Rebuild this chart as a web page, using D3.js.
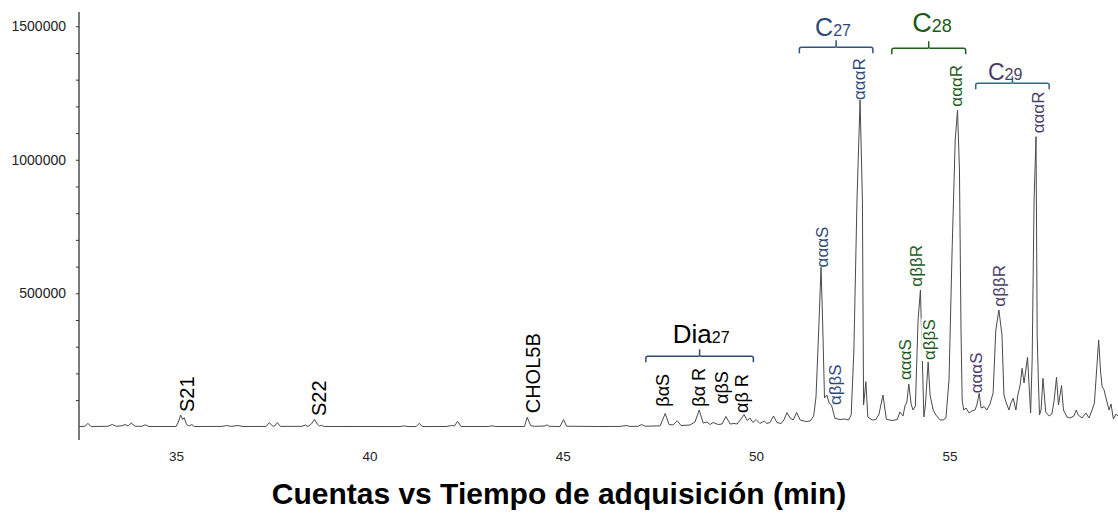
<!DOCTYPE html>
<html>
<head>
<meta charset="utf-8">
<script src="https://cdn.jsdelivr.net/npm/d3@7"></script>
<style>
  body { margin: 0; background: #fff; }
  svg { display: block; font-family: "Liberation Sans", Arial, sans-serif; }
</style>
</head>
<body>
<svg id="chart" width="1118" height="520"></svg>
<script>
// chromatogram trace (min, counts)
const times = [32.49,32.65,32.72,32.80,33.24,33.35,33.45,33.60,33.68,33.76,33.84,33.94,34.12,34.20,34.30,
  35.00,35.06,35.12,35.17,35.21,35.27,35.34,35.41,35.47,36.19,36.31,36.42,36.60,36.73,
  37.33,37.41,37.50,37.55,37.62,37.70,38.26,38.34,38.41,38.50,38.58,38.65,38.71,38.76,38.83,
  40.79,40.90,41.00,41.21,41.29,41.37,41.98,42.13,42.20,42.28,42.37,43.07,43.17,43.27,
  44.01,44.08,44.17,44.26,44.54,44.59,44.65,44.93,45.02,45.10,45.96,46.48,46.64,46.74,
  46.95,47.04,47.13,47.52,47.65,47.75,47.85,47.96,48.06,48.29,48.42,48.53,48.63,48.73,
  48.81,48.89,49.02,49.12,49.22,49.33,49.43,49.51,49.61,49.69,49.77,49.84,49.92,50.00,
  50.10,50.21,50.28,50.36,50.45,50.54,50.65,50.72,50.80,50.88,50.96,51.05,51.14,51.29,
  51.40,51.49,51.55,51.62,51.68,51.72,51.77,51.83,51.89,51.95,52.04,52.17,52.30,52.39,
  52.46,52.53,52.61,52.69,52.75,52.78,52.84,52.89,53.00,53.10,53.18,53.28,53.37,53.52,
  53.65,53.72,53.80,53.85,53.90,53.95,54.01,54.06,54.12,54.19,54.25,54.30,54.34,54.38,
  54.45,54.50,54.58,54.65,54.76,54.84,54.91,54.99,55.07,55.15,55.21,55.26,55.30,55.33,
  55.37,55.43,55.51,55.58,55.66,55.71,55.77,55.82,55.90,55.97,56.05,56.13,56.20,56.28,
  56.36,56.41,56.46,56.54,56.59,56.65,56.72,56.77,56.83,56.88,56.93,57.02,57.06,57.10,
  57.14,57.19,57.24,57.27,57.30,57.33,57.37,57.42,57.49,57.58,57.65,57.71,57.77,57.82,
  57.90,57.95,58.04,58.12,58.22,58.28,58.33,58.43,58.53,58.61,58.69,58.75,58.79,58.86,
  58.91,58.95,59.00,59.05,59.13,59.18,59.24,59.31,59.36];
const counts = [1000,2000,13100,1000,2000,8600,2200,3700,8600,3000,14200,2200,1900,7500,1100,
  1100,18000,44200,27300,34100,8600,3000,8600,1100,1500,4900,1500,4900,1100,
  1500,15400,3000,3000,15400,1500,1900,6700,1100,10500,28100,10500,3000,5600,1100,
  1000,3700,1000,1000,13100,1000,1100,4900,3000,20600,1100,1100,3700,1100,
  1100,35600,4900,1900,3000,7500,1900,1100,27300,2200,1100,1500,4900,1500,
  2200,8600,2200,3700,49800,8600,6700,22800,4900,6700,18000,62900,14200,18000,
  8600,16100,8600,10500,38600,10500,12400,10500,29200,46100,23600,33000,16100,27300,
  12400,21700,12400,16100,40400,16100,12400,25500,53600,33000,25500,53600,25500,19800,
  21700,40400,111600,362500,597300,400000,107900,119100,89100,81600,31800,27300,29200,25500,
  44200,287600,849400,1223900,848600,81600,168900,36700,25500,27300,47900,119100,28100,23600,
  27300,55400,40400,77900,92900,160300,85400,62900,77900,400000,512300,250200,36700,81600,
  242700,119100,62900,44200,25500,25500,33000,175300,662100,1074000,1186400,961700,362500,100400,
  62900,70400,51700,59200,62900,81600,125500,70400,75300,62900,85400,126600,362500,437400,
  343800,119100,94000,62900,89100,106700,62900,119100,156500,219100,164000,260300,156500,51700,
  250200,849400,1086400,343800,175300,44200,62900,181600,55400,40400,47900,100400,185400,81600,
  154700,62900,36700,33000,40400,62900,44200,33000,51700,33000,62900,89100,175300,325100,
  205200,150200,137800,107900,62900,85400,29200,47900,40400];

// peak labels: text, anchor (time, counts) at the foot of the label, group
const peakNames  = ['S21','S22','CHOL5B','βαS','βα R','αβS','αβ R',
  'αααS','αββS','αααR','αααS','αββR','αββS','αααR','αααS','αββR','αααR'];
const peakTimes  = [35.27,38.70,44.22,47.58,48.52,49.11,49.62,
  51.70,52.03,52.67,53.84,54.14,54.47,55.17,55.69,56.27,57.30];
const peakCounts = [55400,40400,50600,75300,75300,85400,51700,
  596900,81600,1223900,175300,524700,250200,1198800,125500,449800,1099200];
const peakGroup  = ['std','std','std','dia','dia','dia','dia',
  'c27','c27','c27','c28','c28','c28','c28','c29','c29','c29'];

// group brackets
const groupKeys   = ['dia','c27','c28','c29'];
const groupMain   = ['Dia','C','C','C'];
const groupSub    = ['27','27','28','29'];
const groupStart  = [47.15,51.12,53.51,55.68];
const groupEnd    = [49.93,53.02,55.42,57.58];
const groupLevel  = [264400,1421300,1417500,1286400];
const groupTitleT = [48.58,51.99,54.55,56.44];
const groupTitleC = [315000,1463500,1477000,1297000];

const xTicks = [35,40,45,50,55];
const yTicks = [500000,1000000,1500000];

const textColor  = {std:'#000', dia:'#000', c27:'#2e4b78', c28:'#1c5a1c', c29:'#4a3c68'};
const braceColor = {dia:'#2f4b72', c27:'#2f5080', c28:'#1f5e1f', c29:'#2d6a7a'};
const mainSize   = {dia:26, c27:25, c28:27, c29:23};
const subSize    = {dia:16, c27:16, c28:18, c29:16};

const svg = d3.select('#chart');

const x = d3.scaleLinear().domain([32.49, 59.36]).range([79, 1118]);
const y = d3.scaleLinear().domain([-49400, 1553400]).range([440, 12]);

// y axis, minor ticks every 100000
const yAxis = svg.append('g')
  .attr('transform', 'translate(79,0)')
  .call(d3.axisLeft(y).tickValues(d3.range(100000, 1500001, 100000)).tickSize(3).tickPadding(10)
    .tickFormat(d => yTicks.includes(d) ? d3.format('d')(d) : ''));
yAxis.select('.domain').attr('d', 'M0,12V440').attr('stroke', '#222').attr('stroke-width', 1.2);
yAxis.selectAll('.tick line').attr('stroke', '#333');
yAxis.selectAll('text').attr('font-size', 14).attr('fill', '#222')
  .attr('font-family', '"Liberation Sans", Arial, sans-serif');

// x axis
const xAxis = svg.append('g')
  .attr('transform', 'translate(0,441)')
  .call(d3.axisBottom(x).tickValues(xTicks).tickSize(0).tickPadding(10).tickFormat(d3.format('d')));
xAxis.select('.domain').remove();
xAxis.selectAll('text').attr('font-size', 13.5).attr('fill', '#222')
  .attr('font-family', '"Liberation Sans", Arial, sans-serif');

// trace
svg.append('defs').append('clipPath').attr('id', 'plotclip')
  .append('rect').attr('x', 79).attr('y', 0).attr('width', 1039).attr('height', 441);

const line = d3.line()
  .x((d, i) => x(times[i]))
  .y((d, i) => y(counts[i]));

svg.append('path')
  .datum(counts)
  .attr('clip-path', 'url(#plotclip)')
  .attr('fill', 'none')
  .attr('stroke', '#4a4a4a')
  .attr('stroke-width', 1)
  .attr('stroke-linejoin', 'round')
  .attr('d', line);

// peak labels
peakNames.forEach((name, i) => {
  const g = peakGroup[i];
  const size = (g === 'std') ? 20 : (g === 'dia' ? 18 : 17);
  const lab = svg.append('g')
    .attr('transform', `translate(${x(peakTimes[i])},${y(peakCounts[i])}) rotate(-90)`);
  const t = lab.append('text')
    .attr('x', 0).attr('y', 0).attr('dy', '0.36em')
    .attr('font-size', size)
    .attr('fill', textColor[g])
    .text(name);
  if (g === 'c28' && name === 'αββS') {
    const len = t.node().getComputedTextLength();
    lab.insert('rect', 'text')
      .attr('x', -1).attr('y', -size * 0.45).attr('width', len + 2).attr('height', size * 0.95)
      .attr('fill', '#fff');
  }
});

// group brackets and titles
groupKeys.forEach((k, i) => {
  const x1 = x(groupStart[i]), x2 = x(groupEnd[i]), yb = y(groupLevel[i]);
  const xm = (x1 + x2) / 2;
  svg.append('path')
    .attr('fill', 'none')
    .attr('stroke', braceColor[k])
    .attr('stroke-width', 1.5)
    .attr('d', `M${x1},${yb + 6} L${x1},${yb + 2} Q${x1},${yb} ${x1 + 2},${yb} L${xm - 1},${yb} Q${xm},${yb} ${xm},${yb - 2} L${xm},${yb - 7}
               M${xm},${yb - 2} Q${xm},${yb} ${xm + 1},${yb} L${x2 - 2},${yb} Q${x2},${yb} ${x2},${yb + 2} L${x2},${yb + 6}`);

  const tt = svg.append('text')
    .attr('x', x(groupTitleT[i]))
    .attr('y', y(groupTitleC[i]))
    .attr('text-anchor', 'middle')
    .attr('fill', textColor[k]);
  tt.append('tspan').attr('font-size', mainSize[k]).text(groupMain[i]);
  tt.append('tspan').attr('font-size', subSize[k]).text(groupSub[i]);
});

// axis title
svg.append('text')
  .attr('x', 559)
  .attr('y', 504)
  .attr('text-anchor', 'middle')
  .attr('font-size', 30)
  .attr('font-weight', 'bold')
  .attr('fill', '#000')
  .text('Cuentas vs Tiempo de adquisición (min)');
</script>
</body>
</html>
